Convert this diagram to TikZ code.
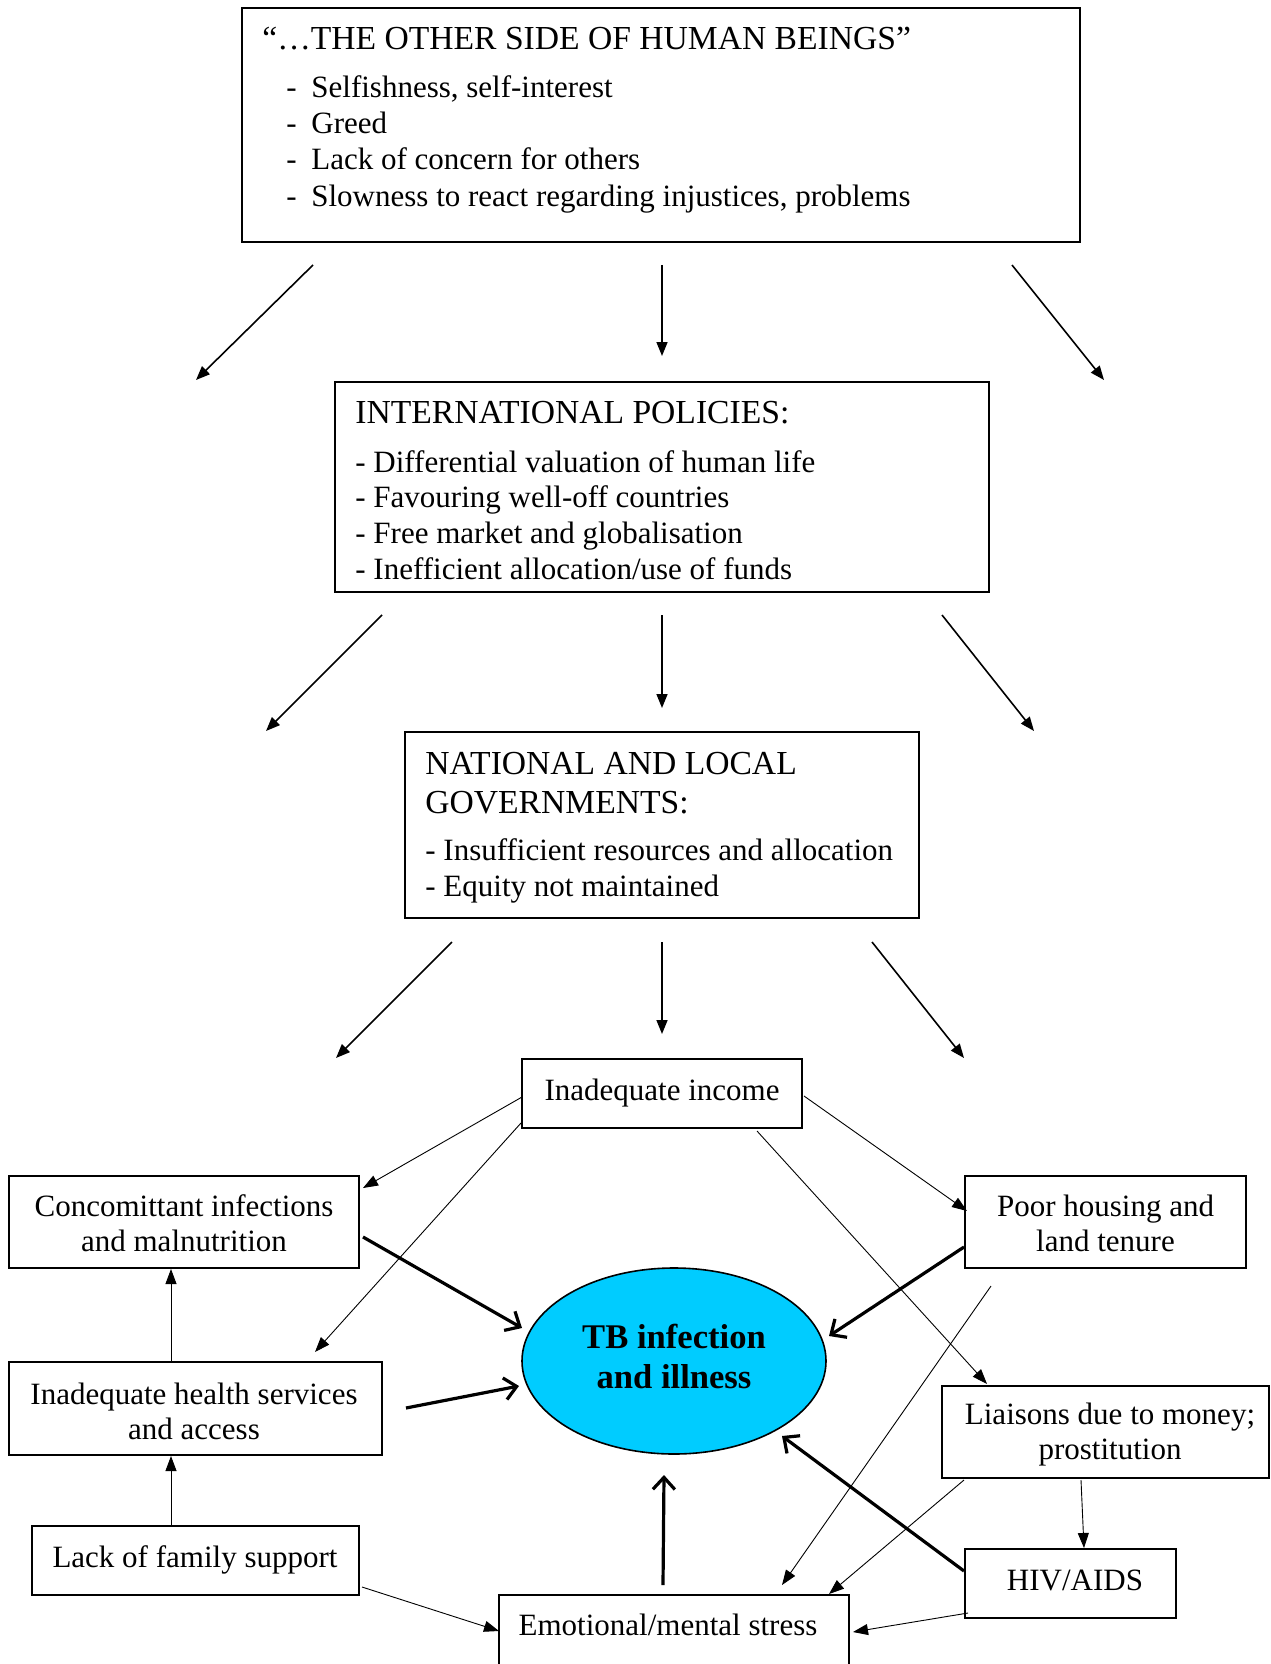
\documentclass[tikz,border=0pt]{standalone}
\usepackage{fontspec}
\setmainfont{Liberation Serif}
\usetikzlibrary{arrows.meta,fit,shapes.geometric}
\definecolor{tbcyan}{HTML}{00CCFF}
\begin{document}
\begin{tikzpicture}[x=0.5pt,y=-0.5pt,
  box/.style={draw, line width=1pt, inner sep=0pt},
  body/.style={font=\fontsize{15.5pt}{17.5pt}\selectfont, inner sep=0pt},
  ttl/.style={font=\fontsize{16.8pt}{19.5pt}\selectfont, inner sep=0pt},
  lvl/.style={line width=0.8pt, -{Triangle[length=7pt,width=5.5pt]}},
  thinar/.style={line width=0.45pt, -{Triangle[length=7.5pt,width=5.5pt]}},
  thickar/.style={line width=1.6pt, -{Straight Barb[length=6pt,width=11pt]}}]
\useasboundingbox (0,0) rectangle (1270,1664);
\fill[white] (0,0) rectangle (1270,1664);
\clip (0,0) rectangle (1270,1664);

% top box
\node[box, fit={(242,8.5) (1080,242)}] (top) {};
\node[ttl, anchor=base west] (t0) at (262,50) {“…THE OTHER SIDE OF HUMAN BEINGS”};
\node[body, anchor=base west] (t1) at (286,98) {\makebox[12.5pt][l]{-}Selfishness, self-interest};
\node[body, anchor=base west] (t2) at (286,134) {\makebox[12.5pt][l]{-}Greed};
\node[body, anchor=base west] (t3) at (286,170) {\makebox[12.5pt][l]{-}Lack of concern for others};
\node[body, anchor=base west] (t4) at (286,206) {\makebox[12.5pt][l]{-}Slowness to react regarding injustices, problems};

% international
\node[box, fit={(335,382) (989,592)}] (intl) {};
\node[ttl, anchor=base west] (i0) at (355,423) {INTERNATIONAL POLICIES:};
\node[body, anchor=base west] (i1) at (355,472) {- Differential valuation of human life};
\node[body, anchor=base west] (i2) at (355,507) {- Favouring well-off countries};
\node[body, anchor=base west] (i3) at (355,543) {- Free market and globalisation};
\node[body, anchor=base west] (i4) at (355,579) {- Inefficient allocation/use of funds};

% national
\node[box, fit={(405,732) (919,918)}] (natl) {};
\node[ttl, anchor=base west] (n0) at (425,774) {NATIONAL AND LOCAL};
\node[ttl, anchor=base west] (n1) at (425,813) {GOVERNMENTS:};
\node[body, anchor=base west] (n2) at (425,860) {- Insufficient resources and allocation};
\node[body, anchor=base west] (n3) at (425,896) {- Equity not maintained};

% level arrows
\coordinate (a1s) at (313,265); \coordinate (a1e) at (196,380);
\coordinate (a2s) at (662,265); \coordinate (a2e) at (662,356);
\coordinate (a3s) at (1012,265); \coordinate (a3e) at (1104,380);
\coordinate (b1s) at (382,615); \coordinate (b1e) at (266,731);
\coordinate (b2s) at (662,615); \coordinate (b2e) at (662,708);
\coordinate (b3s) at (942,615); \coordinate (b3e) at (1034,731);
\coordinate (c1s) at (452,942); \coordinate (c1e) at (336,1058);
\coordinate (c2s) at (662,942); \coordinate (c2e) at (662,1034);
\coordinate (c3s) at (872,942); \coordinate (c3e) at (964,1058);
\foreach \p in {a1,a2,a3,b1,b2,b3,c1,c2,c3} \draw[lvl] (\p s) -- (\p e);

% lower boxes
\node[box, fit={(522,1059) (802,1128)}] (inc) {};
\node[body] (inct) at (662,1093) {Inadequate income};
\node[box, fit={(8.5,1176) (359,1268)}] (con) {};
\node[body, align=center] (cont) at (184,1223) {Concomittant infections\\and malnutrition};
\node[box, fit={(8.5,1362) (382,1455)}] (hea) {};
\node[body, align=center] (heat) at (194,1411) {Inadequate health services\\and access};
\node[box, fit={(32,1526) (359,1595)}] (lac) {};
\node[body] (lact) at (195,1560) {Lack of family support};
\node[box, fit={(499,1595) (849,1720)}] (emo) {};
\node[body] (emot) at (668,1625) {Emotional/mental stress};
\node[box, fit={(965,1176) (1246,1268)}] (poo) {};
\node[body, align=center] (poot) at (1105.5,1223) {Poor housing and\\land tenure};
\node[box, fit={(942,1386) (1269,1478)}] (lia) {};
\node[body, align=center] (liat) at (1110,1435) {Liaisons due to money;\\prostitution};
\node[box, fit={(965,1549) (1176,1618)}] (hiv) {};
\node[body] (hivt) at (1075,1580) {HIV/AIDS};

\node[ellipse, draw, line width=0.8pt, fill=tbcyan, minimum width=152pt, minimum height=93pt, inner sep=0pt] (tb) at (674,1361) {};
\node[font=\bfseries\fontsize{17.3pt}{20pt}\selectfont, align=center, inner sep=0pt] (tbt) at (674,1356) {TB infection\\and illness};

% thin connectors
\draw[thinar] ([shift={(1,39)}]inc.north west) -- ([shift={(3,13)}]con.north east);
\draw[thinar] ([shift={(0,-6)}]inc.south west) -- ([shift={(-68,-9)}]hea.north east);
\draw[thinar] ([shift={(1,38)}]inc.north east) -- ([shift={(3,36)}]poo.north west);
\draw[thinar] ([shift={(-46,2)}]inc.south east) -- ([shift={(46,-1)}]lia.north west);
\draw[thinar] ([shift={(140,0)}]lac.north west) -- ([shift={(163.5,0)}]hea.south west);
\draw[thinar] ([shift={(163.5,0)}]hea.north west) -- ([shift={(163.5,0)}]con.south west);
\draw[thinar] ([shift={(2,62)}]lac.north east) -- ([shift={(1,37)}]emo.north west);
\draw[thinar] ([shift={(140,1)}]lia.south west) -- ([shift={(120,0)}]hiv.north west);
\draw[thinar] ([shift={(23,1)}]lia.south west) -- ([shift={(-21,0)}]emo.north east);
\draw[thinar] ([shift={(27,17)}]poo.south west) -- ([shift={(284,-9)}]emo.north west);
\draw[thinar] ([shift={(4,-6)}]hiv.south west) -- ([shift={(3,38)}]emo.north east);

% thick connectors
\draw[thickar] ([shift={(3,62)}]con.north east) -- ([shift={(-152,-33)}]tb.center);
\draw[thickar] ([shift={(23,47)}]hea.north east) -- ([shift={(-155,25)}]tb.center);
\draw[thickar] ([shift={(0,-22)}]poo.south west) -- ([shift={(155,-25)}]tb.center);
\draw[thickar] ([shift={(165,-9)}]emo.north west) -- ([shift={(-10,114)}]tb.center);
\draw[thickar] ([shift={(0,23)}]hiv.north west) -- ([shift={(108,75)}]tb.center);
\end{tikzpicture}
\end{document}
